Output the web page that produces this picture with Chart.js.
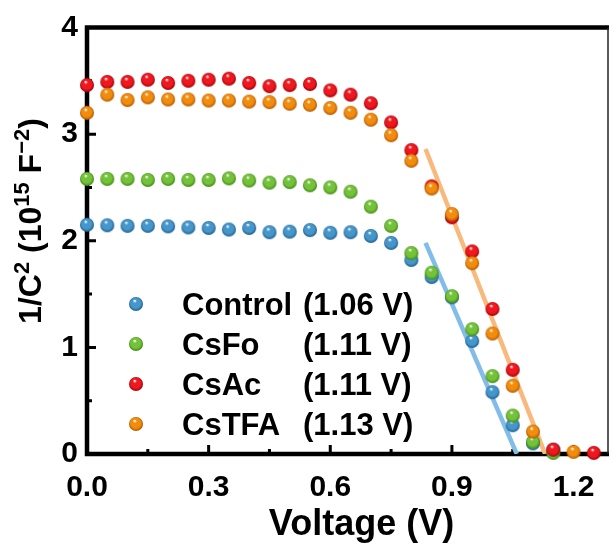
<!DOCTYPE html>
<html>
<head>
<meta charset="utf-8">
<title>Mott-Schottky</title>
<script src="https://cdn.jsdelivr.net/npm/chart.js@4.4.0/dist/chart.umd.min.js"></script>
<style>
  html, body { margin: 0; padding: 0; background: #fff; }
  canvas { display: block; }
</style>
</head>
<body>
<canvas id="ms" width="616" height="548"></canvas>
<script>
// 1/C^2 (1e15 F^-2) against bias, one reading every 50 mV
const voltage = [0.00, 0.05, 0.10, 0.15, 0.20, 0.25, 0.30, 0.35, 0.40, 0.45, 0.50, 0.55, 0.60,
                 0.65, 0.70, 0.75, 0.80, 0.85, 0.90, 0.95, 1.00, 1.05, 1.10, 1.15, 1.20, 1.25]
const control = [2.15, 2.145, 2.14, 2.14, 2.135, 2.125, 2.12, 2.105, 2.12, 2.08, 2.085, 2.10, 2.075,
                 2.08, 2.045, 1.98, 1.82, 1.66, 1.47, 1.06, 0.58, 0.27, 0.10, 0.04, null, null]
const csFo = [2.58, 2.58, 2.58, 2.57, 2.58, 2.57, 2.57, 2.585, 2.565, 2.545, 2.55, 2.52, 2.50,
              2.46, 2.32, 2.14, 1.885, 1.70, 1.48, 1.17, 0.73, 0.36, 0.115, 0.01, null, null]
const csAc = [3.46, 3.49, 3.49, 3.51, 3.48, 3.50, 3.51, 3.52, 3.48, 3.45, 3.46, 3.47, 3.41,
              3.37, 3.29, 3.11, 2.85, 2.51, 2.22, 1.90, 1.36, 0.79, null, 0.04, null, 0.01]
const csTfa = [3.20, 3.37, 3.32, 3.345, 3.325, 3.325, 3.315, 3.315, 3.305, 3.30, 3.285, 3.275, 3.245,
               3.20, 3.135, 2.99, 2.75, 2.49, 2.25, 1.79, 1.13, 0.64, 0.21, null, 0.02, null]

// linear fits of the depletion region, end points (x-intercept = Vbi)
const controlFitV = [0.835, 1.06]
const controlFitY = [1.98, 0]
const csTfaFitV = [0.835, 1.13]
const csTfaFitY = [2.86, 0]

const names = ['Control', 'CsFo', 'CsAc', 'CsTFA']
const vbi = ['(1.06 V)', '(1.11 V)', '(1.11 V)', '(1.13 V)']

const xTickValues = [0, 0.3, 0.6, 0.9, 1.2]
const xMinorValues = [0.15, 0.45, 0.75, 1.05]
const yTickValues = [0, 1, 2, 3, 4]
const yMinorValues = [0.5, 1.5, 2.5, 3.5]

const colors = {
  Control: ['#4596cb', '#1f5f8e'],
  CsFo: ['#74c23a', '#3f8a15'],
  CsAc: ['#f0181f', '#a00008'],
  CsTFA: ['#f28c0c', '#b25800']
}

// shaded ball used as the marker
function sphere(color, dark, r) {
  const c = document.createElement('canvas')
  const s = r * 2 + 2
  c.width = s
  c.height = s
  const g = c.getContext('2d')
  const cx = s / 2, cy = s / 2
  const grad = g.createRadialGradient(cx - r * 0.2, cy - r * 0.5, r * 0.05, cx, cy, r)
  grad.addColorStop(0, '#ffffff')
  grad.addColorStop(0.25, color)
  grad.addColorStop(0.7, color)
  grad.addColorStop(1, dark)
  g.fillStyle = grad
  g.beginPath()
  g.arc(cx, cy, r, 0, Math.PI * 2)
  g.fill()
  return c
}

const balls = {}
names.forEach(n => { balls[n] = sphere(colors[n][0], colors[n][1], 7) })

function pts(xs, ys) {
  return xs.map((v, i) => ({x: v, y: ys[i]})).filter(p => p.y !== null)
}

function dots(name, ys, order) {
  return {
    label: name,
    data: pts(voltage, ys),
    pointStyle: balls[name],
    pointRadius: 7,
    showLine: false,
    clip: false,
    order: order
  }
}

function fit(xs, ys, color) {
  return {
    label: 'fit',
    data: pts(xs, ys),
    showLine: true,
    borderColor: color,
    borderWidth: 4.5,
    borderCapStyle: 'butt',
    pointRadius: 0,
    order: 10
  }
}

const BOLD = 'bold'
const FAMILY = '"Liberation Sans", Arial, sans-serif'

// box, inward ticks, legend and axis titles
const decor = {
  id: 'decor',
  beforeDatasetsDraw(chart) {
    const {ctx, chartArea: a, scales: {x, y}} = chart
    ctx.save()
    ctx.strokeStyle = '#000'
    ctx.lineWidth = 4.5
    ctx.beginPath()
    ctx.moveTo(a.left, a.top - 2.25)
    ctx.lineTo(a.left, a.bottom + 2.25)
    ctx.moveTo(a.left - 2.25, a.bottom)
    ctx.lineTo(a.right + 1, a.bottom)
    ctx.moveTo(a.left - 2.25, a.top)
    ctx.lineTo(a.right + 1, a.top)
    ctx.stroke()
    ctx.lineWidth = 1.5
    ctx.strokeStyle = '#222'
    ctx.beginPath()
    ctx.moveTo(a.right, a.top)
    ctx.lineTo(a.right, a.bottom)
    ctx.stroke()

    ctx.strokeStyle = '#000'
    ctx.lineWidth = 3
    ctx.beginPath()
    xTickValues.forEach(v => {
      const px = x.getPixelForValue(v)
      ctx.moveTo(px, a.bottom)
      ctx.lineTo(px, a.bottom - 9)
    })
    xMinorValues.forEach(v => {
      const px = x.getPixelForValue(v)
      ctx.moveTo(px, a.bottom)
      ctx.lineTo(px, a.bottom - 5)
    })
    yTickValues.forEach(v => {
      const py = y.getPixelForValue(v)
      ctx.moveTo(a.left, py)
      ctx.lineTo(a.left + 9, py)
    })
    yMinorValues.forEach(v => {
      const py = y.getPixelForValue(v)
      ctx.moveTo(a.left, py)
      ctx.lineTo(a.left + 5, py)
    })
    ctx.stroke()
    ctx.restore()
  },
  afterDraw(chart) {
    const {ctx} = chart
    ctx.save()
    ctx.fillStyle = '#000'

    // legend
    ctx.font = BOLD + ' 31px ' + FAMILY
    ctx.textBaseline = 'alphabetic'
    ctx.textAlign = 'left'
    names.forEach((n, i) => {
      const ry = 304 + i * 40
      const b = balls[n]
      ctx.drawImage(b, 136 - b.width / 2, ry - b.height / 2)
      ctx.fillText(n, 182, ry + 11)
      ctx.fillText(vbi[i], 303, ry + 11)
    })

    // x title
    ctx.font = BOLD + ' 36px ' + FAMILY
    ctx.textAlign = 'center'
    ctx.fillText('Voltage (V)', 361.5, 535)

    // y title with superscripts, rotated
    const big = BOLD + ' 32px ' + FAMILY
    const sup = BOLD + ' 22px ' + FAMILY
    const parts = [['1/C', big, 0], ['2', sup, 12], [' (10', big, 0], ['15', sup, 12],
                   [' F', big, 0], ['\u22122', sup, 12], [')', big, 0]]
    let total = 0
    parts.forEach(p => { ctx.font = p[1]; total += ctx.measureText(p[0]).width })
    ctx.translate(41, 221)
    ctx.rotate(-Math.PI / 2)
    ctx.textAlign = 'left'
    let cx = -total / 2
    parts.forEach(p => {
      ctx.font = p[1]
      ctx.fillText(p[0], cx, -p[2])
      cx += ctx.measureText(p[0]).width
    })
    ctx.restore()
  }
}

const chart = new Chart(document.getElementById('ms'), {
  type: 'scatter',
  data: {
    datasets: [
      fit(controlFitV, controlFitY, '#82bde9'),
      fit(csTfaFitV, csTfaFitY, '#f9b97c'),
      dots('Control', control, 4),
      dots('CsFo', csFo, 3),
      dots('CsAc', csAc, 2),
      dots('CsTFA', csTfa, 1)
    ]
  },
  options: {
    responsive: false,
    animation: false,
    devicePixelRatio: 1,
    layout: { padding: { top: 27.5, right: 1.5, left: 0, bottom: 0 } },
    plugins: {
      legend: { display: false },
      tooltip: { enabled: false }
    },
    scales: {
      x: {
        type: 'linear',
        min: 0,
        max: 1.285,
        grid: { display: false, drawTicks: false },
        border: { display: false },
        afterBuildTicks: s => { s.ticks = xTickValues.map(v => ({value: v})) },
        afterFit: s => { s.height = 94 },
        ticks: {
          color: '#000',
          padding: 16,
          maxRotation: 0,
          font: { family: FAMILY, size: 30, weight: 'bold' },
          callback: v => v.toFixed(1)
        }
      },
      y: {
        type: 'linear',
        min: 0,
        max: 4,
        grid: { display: false, drawTicks: false },
        border: { display: false },
        afterBuildTicks: s => { s.ticks = yTickValues.map(v => ({value: v})) },
        afterFit: s => { s.width = 87 },
        ticks: {
          color: '#000',
          padding: 9,
          font: { family: FAMILY, size: 30, weight: 'bold' },
          callback: v => String(v)
        }
      }
    }
  },
  plugins: [decor]
})
</script>
</body>
</html>
